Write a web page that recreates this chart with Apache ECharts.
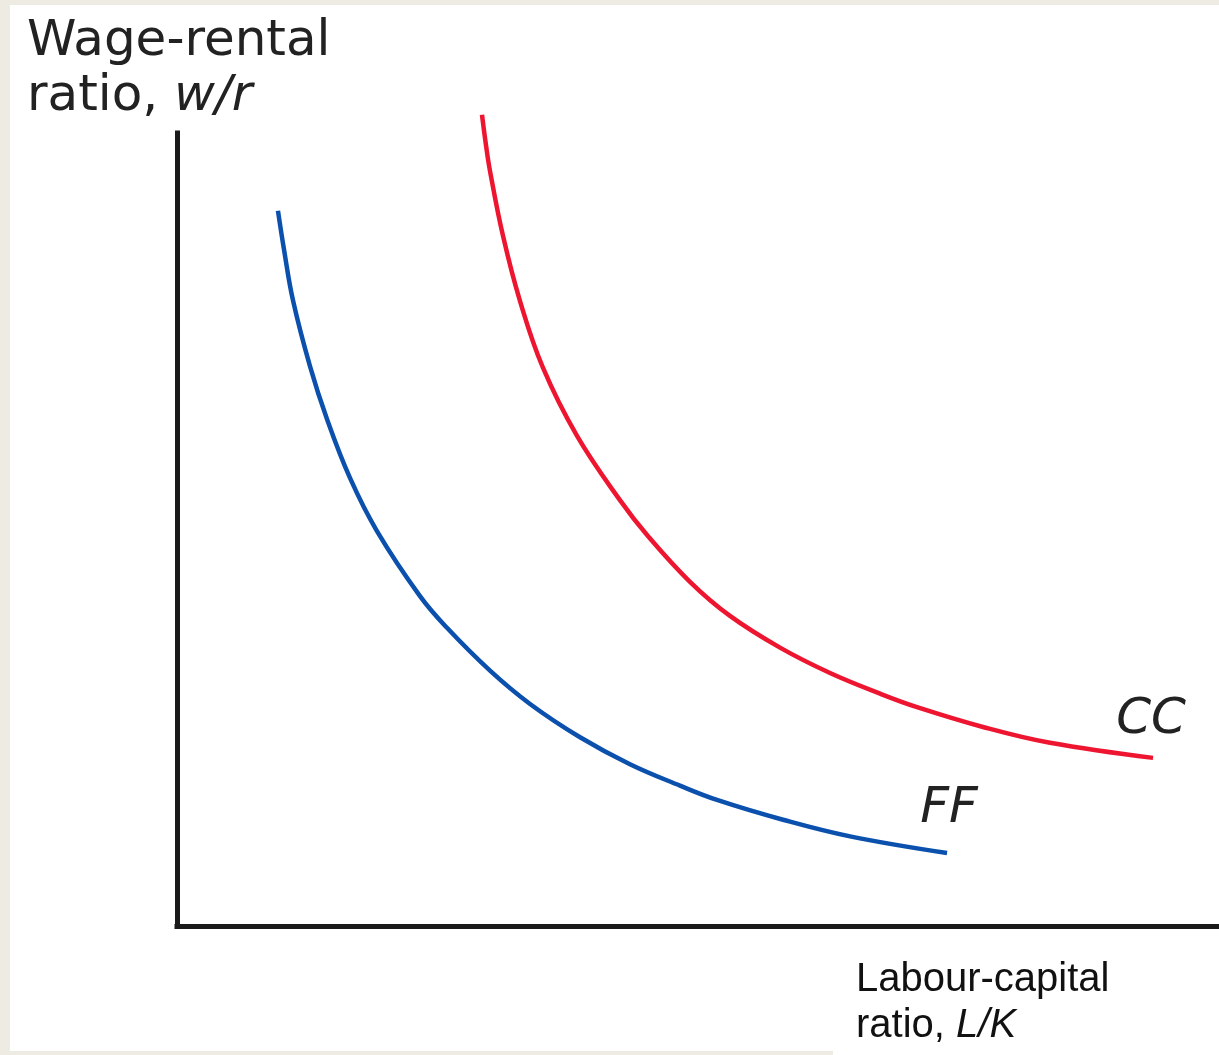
<!DOCTYPE html>
<html>
<head>
<meta charset="utf-8">
<script src="https://cdn.jsdelivr.net/npm/echarts@6/dist/echarts.min.js"></script>
<style>
  html, body { margin: 0; padding: 0; background: #eeebe3; }
  /* white sheet on the beige page */
  .sheet { position: absolute; left: 10px; top: 5px; width: 1209px; height: 1046px; background: #fff; }
  .tab { position: absolute; left: 833px; top: 930px; width: 386px; height: 125px; background: #fff; }
  #main { position: absolute; left: 0; top: 0; width: 1219px; height: 1055px; }
</style>
</head>
<body>
<div class="sheet"></div>
<div class="tab"></div>
<div id="main"></div>
<script>
// FF curve (labour-capital ratio vs wage-rental ratio)
var ffX = [9.69, 10.27, 11.13, 12.76, 14.40, 16.60, 19.19, 23.32, 25.91, 30.04, 33.88, 38.68, 43.47, 48.27, 51.82, 58.16, 64.59, 73.90]
var ffY = [90.2, 85.3, 78.9, 70.6, 63.9, 56.5, 49.8, 41.6, 37.6, 32.2, 28.0, 23.8, 20.4, 17.7, 15.9, 13.4, 11.3, 9.2]
// CC curve
var ccX = [29.27, 29.65, 30.04, 31.29, 32.92, 35.12, 38.39, 42.51, 45.11, 49.23, 53.07, 57.87, 62.67, 67.47, 71.02, 77.35, 83.78, 93.67]
var ccY = [102.3, 98.5, 95.2, 87.0, 78.8, 70.4, 61.8, 53.7, 49.3, 43.4, 39.1, 35.1, 31.9, 29.3, 27.6, 25.1, 23.1, 21.2]

function pairs (xs, ys) {
  return xs.map(function (x, i) { return [x, ys[i]] })
}

var chart = echarts.init(document.getElementById('main'))
var labelFont = {
  fontFamily: 'DejaVu Sans',
  fontStyle: 'italic',
  fontWeight: 'normal',
  fontSize: 50,
  color: '#222'
}
chart.setOption({
  animation: false,
  backgroundColor: 'transparent',
  title: [{
    left: 22,
    top: 10,
    text: '{n|Wage-rental}\n{n|ratio, }{i|w/r}',
    textStyle: {
      fontWeight: 'normal',
      rich: {
        n: { fontFamily: 'DejaVu Sans', fontWeight: 'normal', fontSize: 50, color: '#222', lineHeight: 55 },
        i: { fontFamily: 'DejaVu Sans', fontWeight: 'normal', fontStyle: 'italic', fontSize: 50, color: '#222', lineHeight: 55 }
      }
    }
  }, {
    left: 851,
    top: 952,
    text: '{n|Labour-capital}\n{n|ratio, }{i|L/K}',
    textStyle: {
      fontWeight: 'normal',
      rich: {
        n: { fontFamily: 'Liberation Sans', fontWeight: 'normal', fontSize: 40, color: '#111', lineHeight: 46 },
        i: { fontFamily: 'Liberation Sans', fontWeight: 'normal', fontStyle: 'italic', fontSize: 40, color: '#111', lineHeight: 46 }
      }
    }
  }],
  grid: { left: 177, right: 0, top: 133, bottom: 129 },
  xAxis: {
    type: 'value',
    min: 0,
    max: 100,
    axisLine: { lineStyle: { color: '#1a1a1a', width: 5, cap: 'square' } },
    axisTick: { show: false },
    axisLabel: { show: false },
    splitLine: { show: false }
  },
  yAxis: {
    type: 'value',
    min: 0,
    max: 100,
    axisLine: { show: true, lineStyle: { color: '#1a1a1a', width: 5, cap: 'square' } },
    axisTick: { show: false },
    axisLabel: { show: false },
    splitLine: { show: false }
  },
  series: [{
    name: 'FF',
    type: 'line',
    data: pairs(ffX, ffY),
    smooth: 0.4,
    showSymbol: false,
    clip: false,
    lineStyle: { color: '#0b50ad', width: 4.5 },
    endLabel: Object.assign({ show: true, formatter: '{a}', align: 'center', verticalAlign: 'middle', offset: [-6, -44] }, labelFont)
  }, {
    name: 'CC',
    type: 'line',
    data: pairs(ccX, ccY),
    smooth: 0.4,
    showSymbol: false,
    clip: false,
    lineStyle: { color: '#ee1530', width: 4.5 },
    endLabel: Object.assign({ show: true, formatter: '{a}', align: 'center', verticalAlign: 'middle', offset: [-10, -38] }, labelFont)
  }]
})
</script>
</body>
</html>
